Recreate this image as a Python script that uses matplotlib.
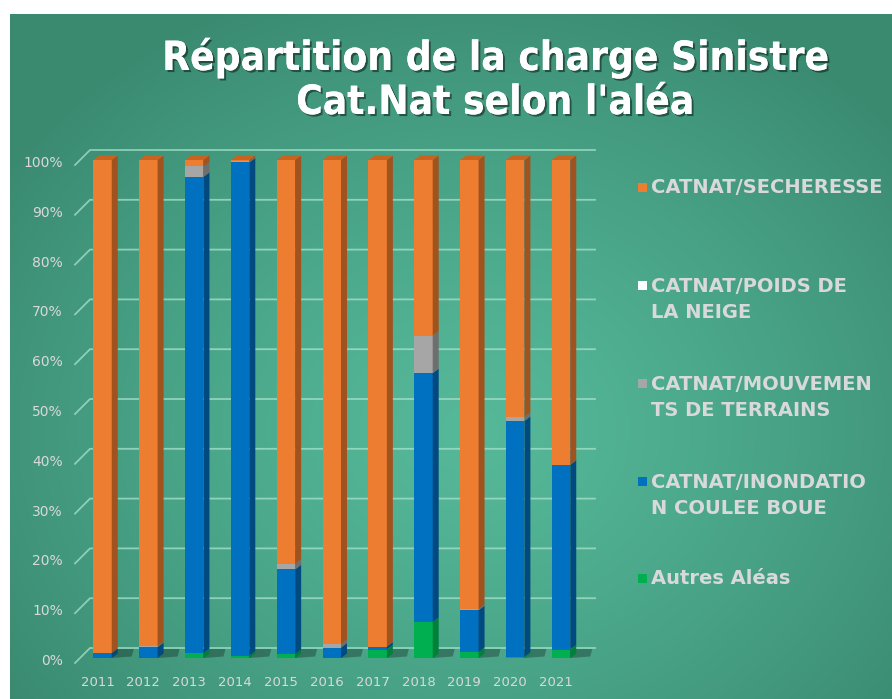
import numpy as np
import matplotlib
matplotlib.use("Agg")
import matplotlib.pyplot as plt
from matplotlib.patches import Polygon, Rectangle
import matplotlib.patheffects as pe

years = ["2011", "2012", "2013", "2014", "2015", "2016", "2017", "2018", "2019", "2020", "2021"]
autres = [0.0, 0.0, 1.0, 0.5, 0.8, 0.0, 1.7, 7.2, 1.2, 0.3, 1.7]
inondation = [1.0, 2.2, 95.6, 99.0, 17.0, 2.1, 0.6, 50.0, 8.4, 47.3, 37.1]
mouvements = [0.0, 0.2, 2.1, 0.2, 1.1, 0.7, 0.0, 7.5, 0.2, 0.8, 0.0]
neige = [0.0] * 11
secheresse = [100 - a - b - c - d for a, b, c, d in zip(autres, inondation, mouvements, neige)]

series = [autres, inondation, mouvements, neige, secheresse]
# front, side, top colours (bottom -> top of stack)
colors = [("#00b050", "#00803a", "#009a46"),
          ("#0070c0", "#004a80", "#005ea2"),
          ("#a6a6a6", "#6e6e6e", "#8a8a8a"),
          ("#ffffff", "#cccccc", "#e6e6e6"),
          ("#ed7d31", "#a0521f", "#c8641f")]

legend_labels = ["CATNAT/SECHERESSE", "CATNAT/POIDS DE\nLA NEIGE", "CATNAT/MOUVEMEN\nTS DE TERRAINS",
                 "CATNAT/INONDATIO\nN COULEE BOUE", "Autres Aléas"]
legend_colors = ["#ed7d31", "#ffffff", "#a6a6a6", "#0070c0", "#00b050"]

W, H = 892, 699
fig = plt.figure(figsize=(W / 100, H / 100), dpi=100)

# background: white margin + green radial gradient panel
bg = fig.add_axes([0, 0, 1, 1])
yy, xx = np.mgrid[0:H, 0:W]
t = np.sqrt(((xx - 470) / 560.0) ** 2 + ((yy - 430) / 470.0) ** 2)
t = np.clip(t, 0, 1) ** 1.3
c0 = np.array([0x55, 0xb8, 0x99]) / 255
c1 = np.array([0x3a, 0x8a, 0x70]) / 255
img = c0[None, None, :] * (1 - t[..., None]) + c1[None, None, :] * t[..., None]
img[:14, :, :] = 1
img[:, :10, :] = 1
bg.imshow(img, extent=[0, W, H, 0], aspect="auto")
bg.set_xlim(0, W)
bg.set_ylim(H, 0)
bg.axis("off")

# main axes, pixel layout
PX_X, PX_Y = 45.85, 4.98       # pixels per category / per percent
X0, Y0 = 102.5, 658            # pixel of first bar centre / 0%
L, R, T, B = 40, 620, 130, 690
ax = fig.add_axes([L / W, 1 - B / H, (R - L) / W, (B - T) / H])
ax.set_xlim((L - X0) / PX_X, (R - X0) / PX_X)
ax.set_ylim((Y0 - B) / PX_Y, (Y0 - T) / PX_Y)
ax.axis("off")

dx, dy = 6 / PX_X, 4.5 / PX_Y
w = 18.5 / PX_X
x = np.arange(len(years))

# back-wall gridlines
for v in range(0, 101, 10):
    xs = [(75 - X0) / PX_X, (90 - X0) / PX_X, (595 - X0) / PX_X]
    ys = [v - 5 / PX_Y, v + 10 / PX_Y, v + 10 / PX_Y]
    ax.plot(xs, ys, color="#a6e3cc", lw=1.3, alpha=0.75, zorder=1)
    ax.text((63 - X0) / PX_X, v - 3 / PX_Y, f"{v}%", ha="right", va="center",
            color="#d9d9d9", fontsize=10)

# bar shadows
for i in x:
    sh = [(i + w / 2, 0), (i + w / 2 + 20 / PX_X, 0.3), (i + w / 2 + 22 / PX_X, 9 / PX_Y),
          (i - w / 2 + 8 / PX_X, 9 / PX_Y), (i - w / 2, 1 / PX_Y)]
    ax.add_patch(Polygon(sh, closed=True, color="black", alpha=0.28, lw=0, zorder=2))

# 3D-looking stacked bars
bottom = np.zeros(len(years))
for vals, (cf, cs, ct) in zip(series, colors):
    vals = np.array(vals)
    ax.bar(x, vals, bottom=bottom, width=w, color=cf, lw=0, zorder=3)
    for i in x:
        if vals[i] <= 0:
            continue
        b, tp = bottom[i], bottom[i] + vals[i]
        side = [(i + w / 2, b), (i + w / 2 + dx, b + dy), (i + w / 2 + dx, tp + dy), (i + w / 2, tp)]
        ax.add_patch(Polygon(side, closed=True, color=cs, lw=0, zorder=3))
    bottom += vals
for i in x:
    top = [(i - w / 2, 100), (i + w / 2, 100), (i + w / 2 + dx, 100 + dy), (i - w / 2 + dx, 100 + dy)]
    ax.add_patch(Polygon(top, closed=True, color=colors[-1][2], lw=0, zorder=3))

for i, yr in zip(x, years):
    ax.text(i - 5 / PX_X, (Y0 - 683) / PX_Y, yr, ha="center", va="center", color="#d9d9d9", fontsize=9.5)

# title
title_fx = [pe.withSimplePatchShadow(offset=(1.5, -1.5), shadow_rgbFace="black", alpha=0.45), pe.Normal()]
title_font = dict(family="DejaVu Sans", fontstretch="condensed", fontsize=29, fontweight="bold")
fig.text(495 / W, 1 - 58 / H, "Répartition de la charge Sinistre", ha="center", va="center",
         color="white", path_effects=title_fx, **title_font)
fig.text(495 / W, 1 - 103 / H, "Cat.Nat selon l'aléa", ha="center", va="center",
         color="white", path_effects=title_fx, **title_font)

# legend
leg_y = [188, 286, 384, 482, 579]
for lab, col, y in zip(legend_labels, legend_colors, leg_y):
    fig.patches.append(Rectangle((638 / W, 1 - (y + 4) / H), 9 / W, 9 / H, transform=fig.transFigure,
                                 color=col, lw=0, figure=fig))
    for k, line in enumerate(lab.split("\n")):
        fig.text(651 / W, 1 - (y + 27 * k) / H, line, ha="left", va="center", color="#d9d9d9",
                 fontsize=14, fontweight="bold")

fig.savefig("out.png", dpi=100)
